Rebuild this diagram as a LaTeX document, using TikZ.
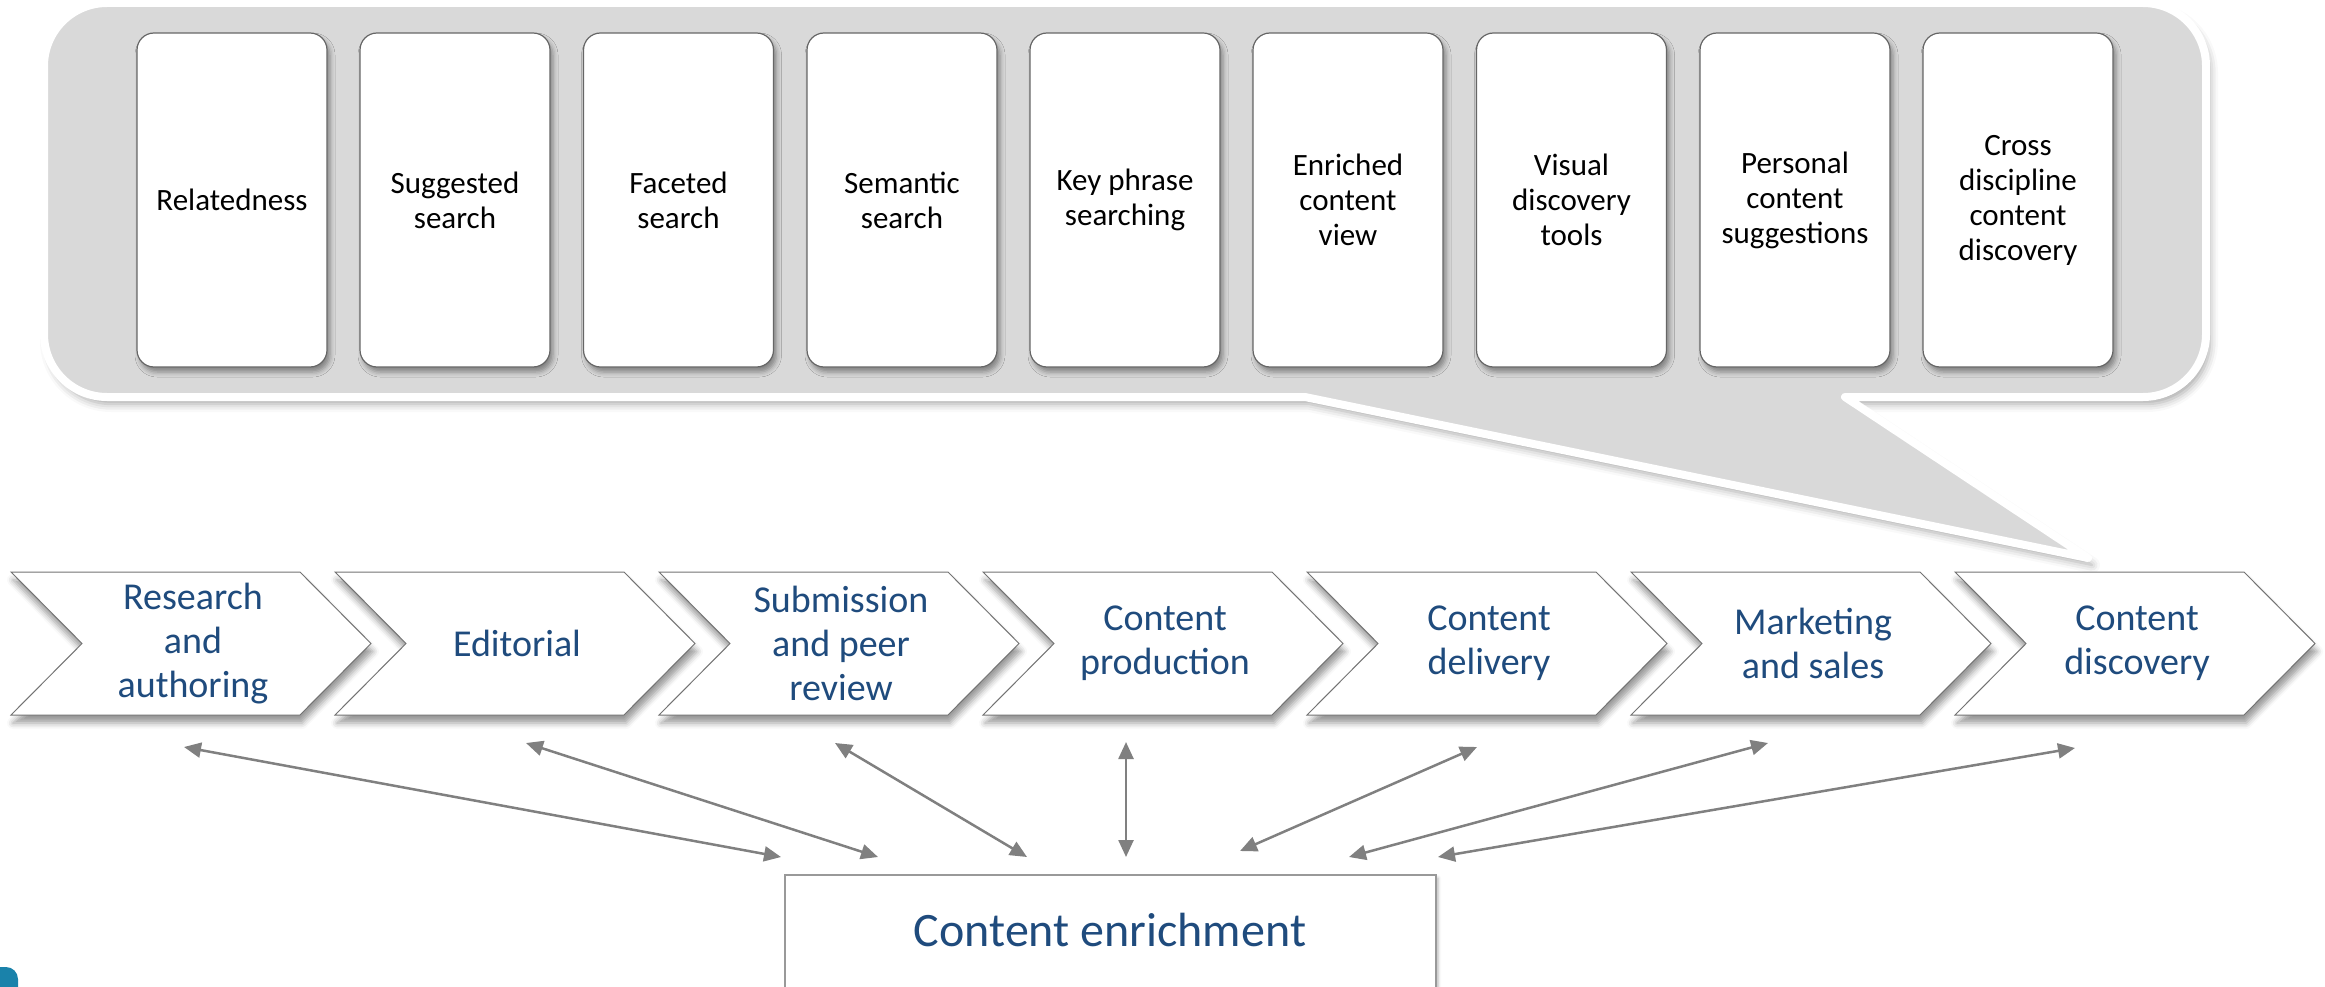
\documentclass[tikz,border=0pt]{standalone}
\usepackage{fontspec}
\setmainfont{Carlito}
\usetikzlibrary{shadows.blur,arrows.meta}
\definecolor{calloutgray}{RGB}{217,217,217}
\definecolor{txtblue}{RGB}{31,75,125}
\definecolor{arrgray}{RGB}{128,128,128}
\definecolor{logoblue}{RGB}{26,130,170}
\begin{document}
\begin{tikzpicture}[x=1pt,y=-1pt,
  callout/.style={fill=calloutgray, draw=white, line width=8pt, line join=round,
    blur shadow={shadow xshift=4pt, shadow yshift=-7pt, shadow blur radius=8pt, shadow opacity=35}},
  ibox/.style={draw=black!60, line width=1.2pt, fill=white, rounded corners=17pt,
    minimum width=190pt, minimum height=334pt, align=center, inner sep=2pt,
    font=\fontsize{31}{35}\selectfont,
    blur shadow={shadow xshift=3pt, shadow yshift=-5pt, shadow blur radius=5pt, shadow opacity=40}},
  chev/.style={draw=black!55, line width=1pt, fill=white,
    blur shadow={shadow xshift=2pt, shadow yshift=-8pt, shadow blur radius=6pt, shadow opacity=40}},
  chevtxt/.style={font=\fontsize{38}{44}\selectfont, text=txtblue, align=center},
  ebox/.style={draw=black!40, line width=2pt, fill=white,
    blur shadow={shadow xshift=2pt, shadow yshift=-3pt, shadow blur radius=3pt, shadow opacity=30}},
  etxt/.style={font=\fontsize{48}{56}\selectfont, text=txtblue},
  conn/.style={draw=arrgray, line width=2.5pt,
    {Triangle[length=17pt,width=15pt]}-{Triangle[length=17pt,width=15pt]}}
]
\useasboundingbox (0,0) rectangle (2325,987);

% callout
\path[callout] (44,66) arc[start angle=180,end angle=270,radius=63] -- (2143,3)
  arc[start angle=270,end angle=360,radius=63] -- (2206,334)
  arc[start angle=0,end angle=90,radius=63] -- (1845,397) -- (2088,558) -- (1305,397)
  -- (107,397) arc[start angle=90,end angle=180,radius=63] -- cycle;

% inner boxes
\node[ibox] (b1) at (232,200) {Relatedness};
\node[ibox] (b2) at (455,200) {Suggested\\search};
\node[ibox] (b3) at (678.5,200) {Faceted\\search};
\node[ibox] (b4) at (902,200) {Semantic\\search};
\node[ibox] (b5) at (1125,200) {Key phrase\\searching};
\node[ibox] (b6) at (1348,200) {Enriched\\content\\view};
\node[ibox] (b7) at (1571.5,200) {Visual\\discovery\\tools};
\node[ibox] (b8) at (1795,200) {Personal\\content\\suggestions};
\node[ibox] (b9) at (2018,200) {Cross\\discipline\\content\\discovery};

% chevrons
\path[chev] (11,572) -- (300,572) -- (371,643.5) -- (300,715) -- (11,715) -- (82,643.5) -- cycle;
\path[chev] (335,572) -- (624,572) -- (695,643.5) -- (624,715) -- (335,715) -- (406,643.5) -- cycle;
\path[chev] (659,572) -- (948,572) -- (1019,643.5) -- (948,715) -- (659,715) -- (730,643.5) -- cycle;
\path[chev] (983,572) -- (1272,572) -- (1343,643.5) -- (1272,715) -- (983,715) -- (1054,643.5) -- cycle;
\path[chev] (1307,572) -- (1596,572) -- (1667,643.5) -- (1596,715) -- (1307,715) -- (1378,643.5) -- cycle;
\path[chev] (1631,572) -- (1920,572) -- (1991,643.5) -- (1920,715) -- (1631,715) -- (1702,643.5) -- cycle;
\path[chev] (1955,572) -- (2244,572) -- (2315,643.5) -- (2244,715) -- (1955,715) -- (2026,643.5) -- cycle;

\node[chevtxt] (p1) at (193,643.5) {Research\\and\\authoring};
\node[chevtxt] (p2) at (517,643.5) {Editorial};
\node[chevtxt] (p3) at (841,643.5) {Submission\\and peer\\review};
\node[chevtxt] (p4) at (1165,643.5) {Content\\production};
\node[chevtxt] (p5) at (1489,643.5) {Content\\delivery};
\node[chevtxt] (p6) at (1813,643.5) {Marketing\\and sales};
\node[chevtxt] (p7) at (2137,643.5) {Content\\discovery};

% content enrichment
\path[ebox] (785,875) -- (785,1000) -- (1436,1000) -- (1436,875) -- cycle;
\node[etxt] (enrich) at (1110,930) {Content enrichment};

% arrow ends
\coordinate (t1) at (184,747);  \coordinate (e1) at (781,857);
\coordinate (t2) at (526,743);  \coordinate (e2) at (878,857);
\coordinate (t3) at (835,743);  \coordinate (e3) at (1027,857);
\coordinate (t4) at (1126,742); \coordinate (e4) at (1126,857);
\coordinate (t5) at (1477,747); \coordinate (e5) at (1240,851);
\coordinate (t6) at (1768,743); \coordinate (e6) at (1349,857);
\coordinate (t7) at (2075,748); \coordinate (e7) at (1438,857);
\foreach \i in {1,...,7} { \draw[conn] (t\i) -- (e\i); }

% partial logo at bottom-left
\fill[logoblue, rounded corners=12pt] (-20,967) rectangle (18,1010);
\end{tikzpicture}
\end{document}
